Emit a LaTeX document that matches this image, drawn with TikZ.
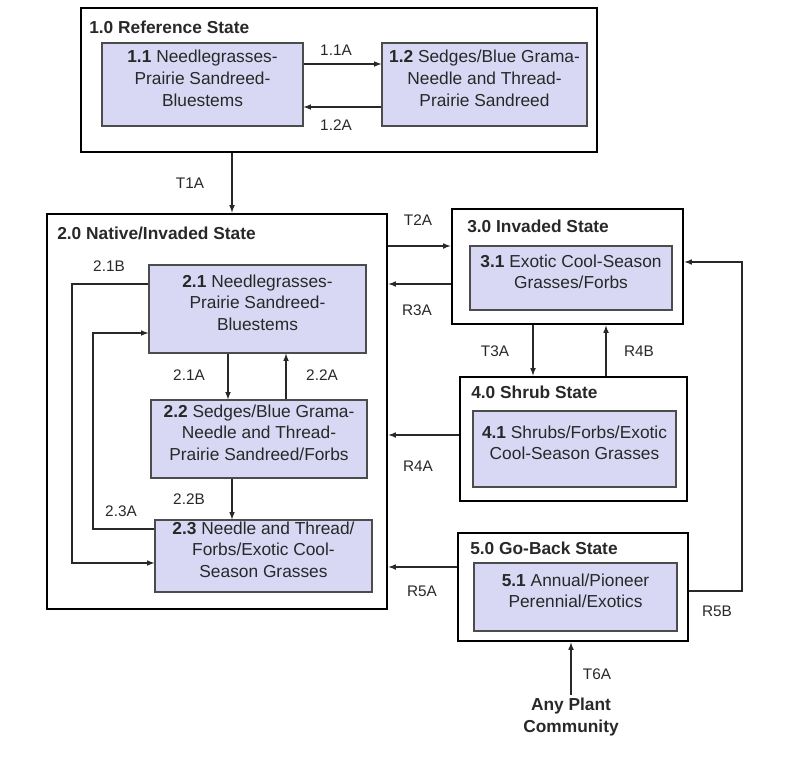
\documentclass[tikz,border=0pt]{standalone}
\usepackage{fontspec}
\setmainfont{Liberation Sans}
\usetikzlibrary{fit}
\definecolor{lavande}{RGB}{216,216,244}
\definecolor{encre}{RGB}{40,40,40}
\begin{document}
\begin{tikzpicture}[x=0.75pt,y=-0.75pt]
		\tikzstyle{fleche}=[->,>=latex,line width=0.9pt,draw=encre]
		\tikzstyle{etat}=[draw=black,line width=2.2pt,inner sep=0pt]
		\tikzstyle{communaute}=[draw=black!70,line width=0.9pt,fill=lavande,inner sep=0pt,align=center,text=encre,font=\fontsize{13}{16.3}\selectfont]
		\tikzstyle{titre}=[anchor=west,inner sep=0pt,text=encre,font=\fontsize{13}{16}\selectfont\bfseries]
		\tikzstyle{etiquette}=[inner sep=0pt,text=encre,font=\fontsize{11.5}{14}\selectfont]
		
		\useasboundingbox (0,0) rectangle (800,778);
		
		% etats
		\node[etat,fit={(81,8) (597,152)}] (E1) {};
		\node[etat,fit={(47,214) (387,609)}] (E2) {};
		\node[etat,fit={(452,209) (683,324)}] (E3) {};
		\node[etat,fit={(460,377) (687,501)}] (E4) {};
		\node[etat,fit={(458,533) (688,641)}] (E5) {};
		
		\node[titre] (T1) at (89,27) {1.0 Reference State};
		\node[titre] (T2) at (57,233) {2.0 Native/Invaded State};
		\node[titre] (T3) at (467,226) {3.0 Invaded State};
		\node[titre] (T4) at (471,392) {4.0 Shrub State};
		\node[titre] (T5) at (470,548) {5.0 Go-Back State};
		
		% communautes
		\node[communaute,fit={(102,43) (303,126)}] (C11) {\textbf{1.1} Needlegrasses-\\Prairie Sandreed-\\Bluestems};
		\node[communaute,fit={(382,43) (587,126)}] (C12) {\textbf{1.2} Sedges/Blue Grama-\\Needle and Thread-\\Prairie Sandreed};
		\node[communaute,fit={(149,265) (366,353)}] (C21) {\textbf{2.1} Needlegrasses-\\Prairie Sandreed-\\Bluestems};
		\node[communaute,fit={(151,400) (367,478)}] (C22) {\textbf{2.2} Sedges/Blue Grama-\\Needle and Thread-\\Prairie Sandreed/Forbs};
		\node[communaute,fit={(155,520) (372,592)}] (C23) {\textbf{2.3} Needle and Thread/\\Forbs/Exotic Cool-\\Season Grasses};
		\node[communaute,fit={(470,246) (672,310)}] (C31) {\textbf{3.1} Exotic Cool-Season\\Grasses/Forbs};
		\node[communaute,fit={(473,411) (676,487)}] (C41) {\textbf{4.1} Shrubs/Forbs/Exotic\\Cool-Season Grasses};
		\node[communaute,fit={(474,563) (677,631)}] (C51) {\textbf{5.1} Annual/Pioneer\\Perennial/Exotics};
		
		\node[align=center,text=encre,font=\fontsize{13}{16.5}\selectfont\bfseries,inner sep=2pt] (Any) at (571,717) {Any Plant\\Community};
		
		% transitions
		\draw[fleche] (C11.east |- 0,64) -- (C12.west |- 0,64);
		\draw[fleche] (C12.west |- 0,107) -- (C11.east |- 0,107);
		\draw[fleche] (E1.south -| 232,0) -- (E2.north -| 232,0);
		\draw[fleche] (C21.south -| 228,0) -- (C22.north -| 228,0);
		\draw[fleche] (C22.north -| 286,0) -- (C21.south -| 286,0);
		\draw[fleche] (C22.south -| 232,0) -- (C23.north -| 232,0);
		\draw[fleche] (C21.west |- 0,284) -- (72,284) -- (72,563) -- (C23.west |- 0,563);
		\draw[fleche] (C23.west |- 0,529) -- (93,529) -- (93,333) -- (C21.west |- 0,333);
		\draw[fleche] (E2.east |- 0,246) -- (E3.west |- 0,246);
		\draw[fleche] (E3.west |- 0,284) -- (E2.east |- 0,284);
		\draw[fleche] (E4.west |- 0,435) -- (E2.east |- 0,435);
		\draw[fleche] (E5.west |- 0,567) -- (E2.east |- 0,567);
		\draw[fleche] (E3.south -| 533,0) -- (E4.north -| 533,0);
		\draw[fleche] (E4.north -| 606,0) -- (E3.south -| 606,0);
		\draw[fleche] (E5.east |- 0,591) -- (742,591) -- (742,262) -- (E3.east |- 0,262);
		\draw[fleche] (Any.north) -- (Any.north |- E5.south);
		
		% etiquettes
		\node[etiquette] (L11A) at (336,50) {1.1A};
		\node[etiquette] (L12A) at (336,125) {1.2A};
		\node[etiquette] (LT1A) at (190,183) {T1A};
		\node[etiquette] (L21B) at (109,266) {2.1B};
		\node[etiquette] (L21A) at (189,375) {2.1A};
		\node[etiquette] (L22A) at (322,375) {2.2A};
		\node[etiquette] (L22B) at (189,499) {2.2B};
		\node[etiquette] (L23A) at (121,511) {2.3A};
		\node[etiquette] (LT2A) at (418,220) {T2A};
		\node[etiquette] (LR3A) at (417,310) {R3A};
		\node[etiquette] (LR4A) at (418,466) {R4A};
		\node[etiquette] (LR5A) at (422,591) {R5A};
		\node[etiquette] (LT3A) at (495,351) {T3A};
		\node[etiquette] (LR4B) at (639,351) {R4B};
		\node[etiquette] (LR5B) at (717,611) {R5B};
		\node[etiquette] (LT6A) at (597,674) {T6A};
	\end{tikzpicture}
\end{document}
